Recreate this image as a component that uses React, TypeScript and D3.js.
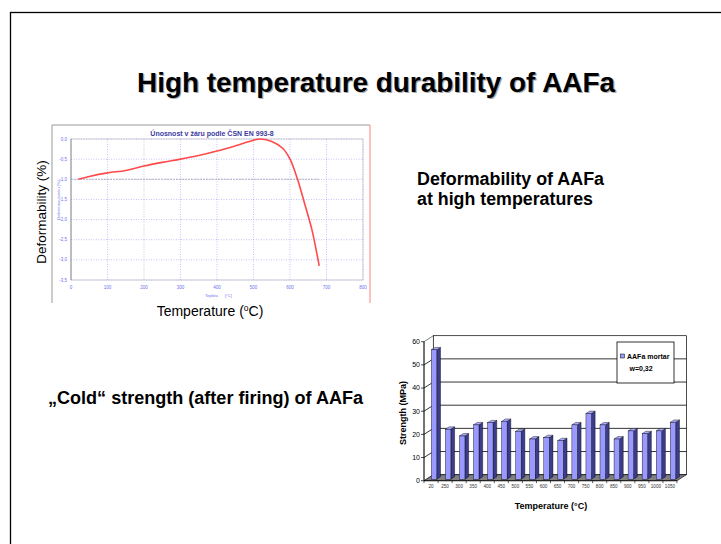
import React from 'react';
import * as d3 from 'd3';

// deformability curve
const defTemps = [20, 50, 100, 150, 200, 250, 300, 350, 400, 450, 500, 520, 550, 580, 600, 620, 640, 660, 680];
const defValues = [-1.0, -0.93, -0.84, -0.78, -0.67, -0.58, -0.5, -0.41, -0.3, -0.17, -0.03, 0, -0.06, -0.23, -0.5, -0.98, -1.6, -2.25, -3.15];
const defXTicks = [0, 100, 200, 300, 400, 500, 600, 700, 800];
const defYTicks = [0, -0.5, -1.0, -1.5, -2.0, -2.5, -3.0, -3.5];

// cold strength bars
const strengthCats = ['20', '250', '300', '350', '400', '450', '500', '550', '600', '650', '700', '750', '800', '850', '900', '950', '1000', '1050'];
const strengthValues = [56.5, 22.2, 19.3, 24.1, 25.0, 25.6, 21.3, 18.0, 18.6, 17.3, 24.1, 29.0, 24.1, 18.0, 21.5, 20.3, 21.5, 25.2];
const strengthYTicks = [0, 10, 20, 30, 40, 50, 60];

const FONT = 'Liberation Sans, Arial, sans-serif';

const DeformChart: React.FC = () => {
  const x = d3.scaleLinear().domain([0, 800]).range([71, 363]);
  const y = d3.scaleLinear().domain([-3.5, 0]).range([280, 139]);
  const line = d3.line<number>()
    .x((_, i) => x(defTemps[i]))
    .y(d => y(d))
    .curve(d3.curveCatmullRom);
  const gridColor = '#9a9aef';
  return (
    <g>
      {/* frame of the pasted screenshot */}
      <line x1={52} x2={370} y1={125} y2={125} stroke="#999" strokeWidth={1} />
      <line x1={52} x2={52} y1={125} y2={303} stroke="#999" strokeWidth={1} />
      <line x1={370} x2={370} y1={125} y2={303} stroke="#ff8080" strokeWidth={1} />
      <text x={212} y={136} textAnchor="middle" fontFamily={FONT} fontWeight="bold" fontSize={7} fill="#3a3aa0">
        Únosnost v žáru podle ČSN EN 993-8
      </text>
      <rect x={71} y={139} width={292} height={141} fill="white" stroke="#c8c8c8" strokeWidth={0.8} />
      {defXTicks.map(t => (
        <line key={'gx' + t} x1={x(t)} x2={x(t)} y1={139} y2={280} stroke={gridColor} strokeWidth={0.6} strokeDasharray="1 1.5" />
      ))}
      {defYTicks.map(t => (
        <line key={'gy' + t} x1={71} x2={363} y1={y(t)} y2={y(t)} stroke={gridColor} strokeWidth={0.6} strokeDasharray="1 1.5" />
      ))}
      <line x1={x(0)} x2={x(680)} y1={y(-1)} y2={y(-1)} stroke="#9a9ab0" strokeWidth={0.7} strokeDasharray="2 1" />
      <line x1={71} x2={71} y1={139} y2={280} stroke="#888" strokeWidth={0.8} />
      {defYTicks.map(t => (
        <text key={'ty' + t} x={67} y={y(t) + 1.5} textAnchor="end" fontFamily={FONT} fontSize={4.5} fill="#7070f0">
          {d3.format('.1f')(t).replace('.', ',').replace('−', '-')}
        </text>
      ))}
      {defXTicks.map(t => (
        <text key={'tx' + t} x={x(t)} y={289} textAnchor="middle" fontFamily={FONT} fontSize={4.5} fill="#7070f0">{t}</text>
      ))}
      <text x={205} y={297} fontFamily={FONT} fontSize={4} fill="#7070f0">Teplota</text>
      <text x={225} y={297} fontFamily={FONT} fontSize={4} fill="#7070f0">[°C]</text>
      <text transform="translate(60,200) rotate(-90)" textAnchor="middle" fontFamily={FONT} fontSize={4} fill="#7070f0">
        Deformace vzorku     [%]
      </text>
      <path d={line(defValues) || ''} fill="none" stroke="#ff4a4a" strokeWidth={1.6} />
      <text transform="translate(46,212) rotate(-90)" textAnchor="middle" fontFamily={FONT} fontSize={13.5} fill="#000">
        Deformability (%)
      </text>
      <text x={210} y={316} textAnchor="middle" fontFamily={FONT} fontSize={14} fill="#000">
        Temperature (<tspan dy={-5} fontSize={8.5}>o</tspan><tspan dy={5}>C)</tspan>
      </text>
    </g>
  );
};

const StrengthChart: React.FC = () => {
  const x0 = 424, x1 = 677;
  const ddx = 9.4, ddy = -6;
  const x = d3.scaleBand().domain(strengthCats).range([x0, x1]).padding(0);
  const y = d3.scaleLinear().domain([0, 60]).range([480.7, 341.7]);
  const step = x.step();
  const bw = 5.5, sdx = 3.7, sdy = -2.4;
  const yTop = y(60) + ddy;
  const yFloor = y(0);
  return (
    <g>
      {/* back wall */}
      <rect x={x0 + ddx} y={yTop} width={x1 - x0} height={yFloor + ddy - yTop} fill="white" stroke="#000" strokeWidth={0.7} />
      {/* side wall */}
      <path d={`M${x0},${y(60)} L${x0 + ddx},${yTop} L${x0 + ddx},${yFloor + ddy} L${x0},${yFloor} Z`} fill="white" stroke="#000" strokeWidth={0.5} />
      {strengthYTicks.filter(t => t > 0 && t < 60).map(t => (
        <g key={'g' + t}>
          <line x1={x0 + ddx} x2={x1 + ddx} y1={y(t) + ddy} y2={y(t) + ddy} stroke="#000" strokeWidth={0.8} />
          <line x1={x0} x2={x0 + ddx} y1={y(t)} y2={y(t) + ddy} stroke="#000" strokeWidth={0.8} />
        </g>
      ))}
      {/* floor */}
      <path d={`M${x0},${yFloor} L${x0 + ddx},${yFloor + ddy} L${x1 + ddx},${yFloor + ddy} L${x1},${yFloor} Z`} fill="#808080" stroke="#000" strokeWidth={0.6} />
      {/* bars */}
      {strengthCats.map((c, i) => {
        const bx = (x(c) as number) + step * 0.5 + 0.3;
        const by0 = yFloor - 1.5;
        const by1 = y(strengthValues[i]);
        return (
          <g key={'b' + c}>
            <path d={`M${bx + bw},${by0} L${bx + bw + sdx},${by0 + sdy} L${bx + bw + sdx},${by1 + sdy} L${bx + bw},${by1} Z`} fill="#3c3c8c" stroke="#000" strokeWidth={0.4} />
            <path d={`M${bx},${by1} L${bx + sdx},${by1 + sdy} L${bx + bw + sdx},${by1 + sdy} L${bx + bw},${by1} Z`} fill="#aaaaff" stroke="#000" strokeWidth={0.4} />
            <rect x={bx} y={by1} width={bw} height={by0 - by1} fill="#9999ff" stroke="#000" strokeWidth={0.4} />
          </g>
        );
      })}
      {/* value axis */}
      <line x1={x0} x2={x0} y1={y(60)} y2={yFloor} stroke="#000" strokeWidth={0.8} />
      {strengthYTicks.map(t => (
        <g key={'yt' + t}>
          <line x1={x0 - 3} x2={x0} y1={y(t)} y2={y(t)} stroke="#000" strokeWidth={0.7} />
          <text x={x0 - 4} y={y(t) + 2.3} textAnchor="end" fontFamily={FONT} fontSize={7} fill="#000">{t}</text>
        </g>
      ))}
      {/* category axis */}
      <line x1={x0} x2={x1} y1={yFloor} y2={yFloor} stroke="#000" strokeWidth={0.7} />
      {strengthCats.map(c => (
        <g key={'xt' + c}>
          <line x1={x(c) as number} x2={x(c) as number} y1={yFloor} y2={yFloor + 2.5} stroke="#000" strokeWidth={0.6} />
          <text x={(x(c) as number) + step / 2} y={yFloor + 7.5} textAnchor="middle" fontFamily={FONT} fontSize={4.6} fill="#333">{c}</text>
        </g>
      ))}
      <line x1={x1} x2={x1} y1={yFloor} y2={yFloor + 2.5} stroke="#000" strokeWidth={0.6} />
      {/* legend */}
      <rect x={617} y={342} width={57} height={41} fill="white" stroke="#000" strokeWidth={0.8} />
      <rect x={620.5} y={354} width={4} height={4} fill="#9999ff" stroke="#000" strokeWidth={0.5} />
      <text x={627} y={358.5} fontFamily={FONT} fontWeight="bold" fontSize={7} fill="#000">AAFa mortar</text>
      <text x={629.5} y={370.5} fontFamily={FONT} fontWeight="bold" fontSize={7} fill="#000">w=0,32</text>
      {/* titles */}
      <text transform="translate(406,413) rotate(-90)" textAnchor="middle" fontFamily={FONT} fontWeight="bold" fontSize={9} fill="#000">
        Strength (MPa)
      </text>
      <text x={551} y={509} textAnchor="middle" fontFamily={FONT} fontWeight="bold" fontSize={9} fill="#000">
        Temperature (°C)
      </text>
    </g>
  );
};

export default function App() {
  return (
    <svg width={721} height={544} style={{ position: 'absolute', left: 0, top: 0, background: 'white' }}>
      <rect x={0} y={0} width={721} height={544} fill="white" />
      <rect x={10.5} y={12.5} width={760} height={600} fill="none" stroke="#000" strokeWidth={1.3} />
      <text x={138.2} y={93.2} textLength={478} lengthAdjust="spacingAndGlyphs" fontFamily={FONT} fontWeight="bold" fontSize={27.5} fill="#aaaaaa">
        High temperature durability of AAFa
      </text>
      <text x={137} y={92} textLength={478} lengthAdjust="spacingAndGlyphs" fontFamily={FONT} fontWeight="bold" fontSize={27.5} fill="#000">
        High temperature durability of AAFa
      </text>
      <DeformChart />
      <text x={417} y={185} textLength={187} lengthAdjust="spacingAndGlyphs" fontFamily={FONT} fontWeight="bold" fontSize={17.5} fill="#000">Deformability of AAFa</text>
      <text x={417} y={205} textLength={176} lengthAdjust="spacingAndGlyphs" fontFamily={FONT} fontWeight="bold" fontSize={17.5} fill="#000">at high temperatures</text>
      <text x={48} y={404} textLength={315} lengthAdjust="spacingAndGlyphs" fontFamily={FONT} fontWeight="bold" fontSize={17.5} fill="#000">„Cold“ strength (after firing) of AAFa</text>
      <StrengthChart />
    </svg>
  );
}
